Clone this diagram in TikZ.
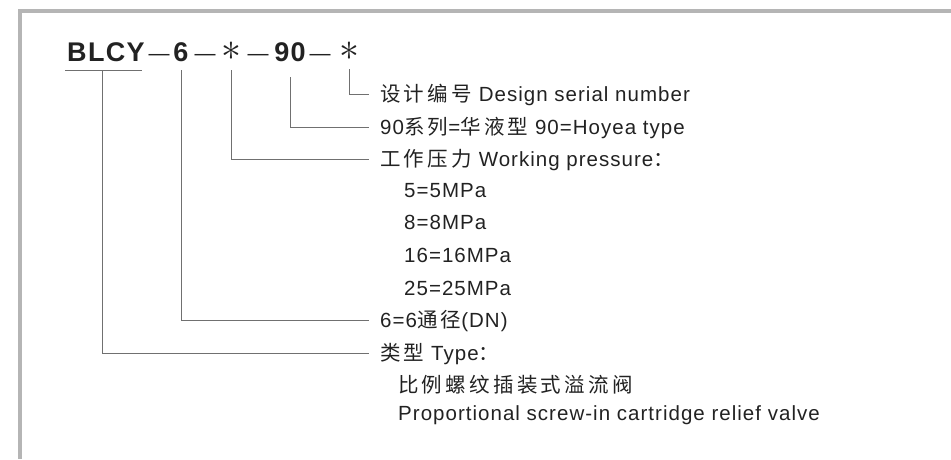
\documentclass[tikz,border=0pt]{standalone}
\usepackage{graphicx}
\usepackage{fontspec}
\setmainfont{Liberation Sans}[LetterSpace=5]
\newfontfamily\cjk{Noto Sans CJK SC}[LetterSpace=16]
\newfontfamily\titlefont{Liberation Sans}[LetterSpace=5]
\newfontfamily\plainfont{Liberation Sans}
\definecolor{txt}{HTML}{222222}
\definecolor{lin}{HTML}{707070}
\definecolor{frm}{HTML}{B5B5B5}
\begin{document}
\begin{tikzpicture}[x=1pt,y=-1pt,
  conn/.style={draw=lin, line width=0.9pt},
  frame/.style={draw=frm, line width=3.5pt},
  ttl/.style={anchor=base, inner sep=0pt, text=txt, font=\titlefont\bfseries\fontsize{27}{27}\selectfont},
  dsh/.style={anchor=base, inner sep=0pt, text=txt, font=\plainfont\fontsize{21}{21}\selectfont},
  star/.style={anchor=base, inner sep=0pt, text=txt, font=\fontsize{24}{24}\selectfont},
  lab/.style={anchor=west, inner xsep=11pt, inner ysep=0pt, text=txt, text height=14.5pt, text depth=0pt, font=\fontsize{20.5}{20.5}\selectfont},
  sub/.style={anchor=west, inner sep=0pt, text=txt, text height=14.5pt, text depth=0pt, font=\fontsize{20.5}{20.5}\selectfont}]
\useasboundingbox (0,0) rectangle (951,459);
% frame
\draw[frame] (18,11) -- (951,11);
\draw[frame] (20,11) -- (20,459);
% title
\node[ttl] (tB) at (106,61) {BLCY};
\node[dsh] (d1) at (159,60) {—};
\node[ttl] (t6) at (181,61) {6};
\node[dsh] (d2) at (205,60) {—};
\node[star] (s1) at (231,60) {\scalebox{1.6}{$\ast$}};
\node[dsh] (d3) at (258,60) {—};
\node[ttl] (t90) at (290,61) {90};
\node[dsh] (d4) at (320,60) {—};
\node[star] (s2) at (349,60) {\scalebox{1.6}{$\ast$}};
% labels
\node[lab] (lDes) at (369,94) {{\cjk 设计编号}\ Design serial number};
\node[lab] (lHoy) at (369,127.5) {90{\cjk 系列}={\cjk 华液型} 90=Hoyea type};
\node[lab] (lWP) at (369,159) {{\cjk 工作压力} Working pressure{\cjk ：}};
\node[sub] (p5) at (404,190) {5=5MPa};
\node[sub] (p8) at (404,222) {8=8MPa};
\node[sub] (p16) at (404,255) {16=16MPa};
\node[sub] (p25) at (404,288) {25=25MPa};
\node[lab] (lDN) at (369,320) {6=6{\cjk 通径}(DN)};
\node[lab] (lType) at (369,353) {{\cjk 类型} Type{\cjk ：}};
\node[sub] (tyC) at (398,385) {\cjk 比例螺纹插装式溢流阀};
\node[sub] (tyE) at (398,413) {Proportional screw-in cartridge relief valve};
% connectors
\coordinate (ulL) at (65,70);
\coordinate (ulR) at (142,70);
\coordinate (cB) at (102,70);
\coordinate (c6) at (181,70);
\coordinate (cS1) at (231,70);
\coordinate (c90) at (290,77);
\coordinate (cS2) at (349,69);
\draw[conn] (ulL) -- (ulR);
\draw[conn] (cB) |- (lType.west);
\draw[conn] (c6) |- (lDN.west);
\draw[conn] (cS1) |- (lWP.west);
\draw[conn] (c90) |- (lHoy.west);
\draw[conn] (cS2) |- (lDes.west);
\end{tikzpicture}
\end{document}
